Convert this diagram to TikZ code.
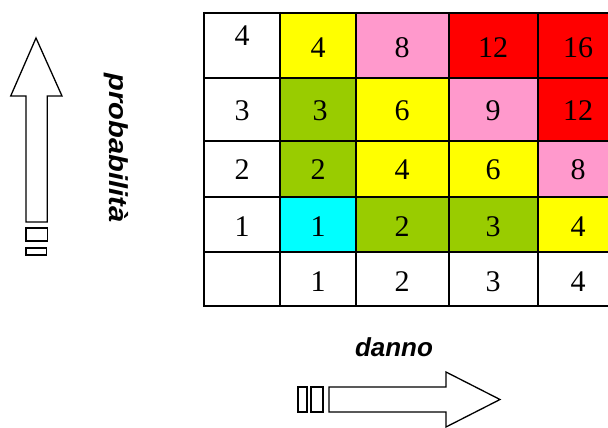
\documentclass[tikz,border=0pt]{standalone}
\usepackage{fontspec}
\setmainfont{Liberation Serif}
\setsansfont{Liberation Sans}
\definecolor{cyel}{HTML}{FFFF00}
\definecolor{cpink}{HTML}{FF99CC}
\definecolor{cred}{HTML}{FF0000}
\definecolor{cgreen}{HTML}{99CC00}
\definecolor{ccyan}{HTML}{00FFFF}
\begin{document}
\begin{tikzpicture}[x=1pt,y=-1pt,
  num/.style={font=\fontsize{30}{30}\selectfont, inner sep=0pt, anchor=center},
  gridline/.style={draw=black, line width=2pt},
  arrowshape/.style={draw=black, line width=1.3pt, fill=white, line join=miter},
  axislabel/.style={font=\sffamily\bfseries\itshape\fontsize{26}{26}\selectfont, inner sep=0pt}]
\useasboundingbox (0,0) rectangle (608,428);
\begin{scope}
\clip (0,0) rectangle (608,428);
% fills
\fill[cyel]  (280,13) rectangle (356,78);
\fill[cpink] (356,13) rectangle (449,78);
\fill[cred]  (449,13) rectangle (538,78);
\fill[cred]  (538,13) rectangle (620,78);
\fill[cgreen](280,78) rectangle (356,141);
\fill[cyel]  (356,78) rectangle (449,141);
\fill[cpink] (449,78) rectangle (538,141);
\fill[cred]  (538,78) rectangle (620,141);
\fill[cgreen](280,141) rectangle (356,197);
\fill[cyel]  (356,141) rectangle (449,197);
\fill[cyel]  (449,141) rectangle (538,197);
\fill[cpink] (538,141) rectangle (620,197);
\fill[ccyan] (280,197) rectangle (356,252);
\fill[cgreen](356,197) rectangle (449,252);
\fill[cgreen](449,197) rectangle (538,252);
\fill[cyel]  (538,197) rectangle (620,252);
% grid
\foreach \yy in {13,78,141,197,252,306} \draw[gridline] (203,\yy) -- (620,\yy);
\foreach \xx in {204,280,356,449,538} \draw[gridline] (\xx,12) -- (\xx,307);
\draw[gridline] (618,12) -- (618,307);
\end{scope}
% numbers
\node[num] (p4) at (242,36) {4};
\node[num] (p3) at (242,111) {3};
\node[num] (p2) at (242,170) {2};
\node[num] (p1) at (242,227) {1};
\node[num] (d1) at (318,282) {1};
\node[num] (d2) at (402,282) {2};
\node[num] (d3) at (493,282) {3};
\node[num] (d4) at (578,282) {4};
\node[num] (c41) at (318,47.5) {4};
\node[num] (c42) at (402,47.5) {8};
\node[num] (c43) at (493,47.5) {12};
\node[num] (c44) at (578,47.5) {16};
\node[num] (c31) at (320,111) {3};
\node[num] (c32) at (402,111) {6};
\node[num] (c33) at (493,111) {9};
\node[num] (c34) at (578,111) {12};
\node[num] (c21) at (318,170) {2};
\node[num] (c22) at (402,170) {4};
\node[num] (c23) at (493,170) {6};
\node[num] (c24) at (578,170) {8};
\node[num] (c11) at (318,227) {1};
\node[num] (c12) at (402,227) {2};
\node[num] (c13) at (493,227) {3};
\node[num] (c14) at (578,227) {4};
% vertical arrow
\draw[arrowshape] (36,38) -- (62,96) -- (47.3,96) -- (47.3,222) -- (26,222) -- (26,96) -- (10.7,96) -- cycle;
\draw[arrowshape] (26,228) rectangle (47.3,241);
\draw[arrowshape] (26,248) rectangle (46.5,255);
% horizontal arrow
\draw[arrowshape] (329,387) -- (446,387) -- (446,372) -- (500,399.5) -- (446,427) -- (446,412) -- (329,412) -- cycle;
\draw[arrowshape] (298,387) rectangle (307,412);
\draw[arrowshape] (311,387) rectangle (323,412);
% labels
\node[axislabel, rotate=-90, anchor=center] (prob) at (116,148) {\scalebox{1.12}[1]{probabilità}};
\node[axislabel, anchor=base] (danno) at (394,356.7) {danno};
\end{tikzpicture}
\end{document}
